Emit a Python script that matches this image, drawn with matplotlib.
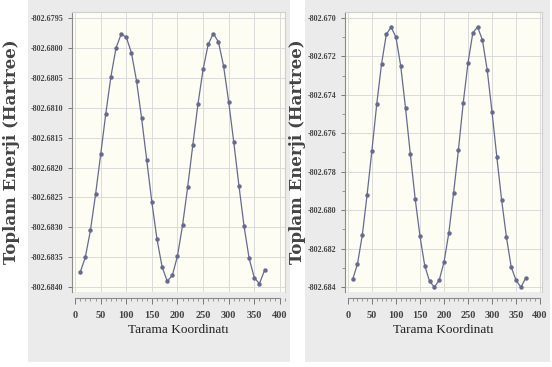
import matplotlib.pyplot as plt
from matplotlib.patches import Rectangle
from matplotlib.ticker import FormatStrFormatter, MultipleLocator

# Tarama koordinati (derece)
scan = [10, 20, 30, 40, 50, 60, 70, 80, 90, 100, 110, 120, 130, 140, 150,
        160, 170, 180, 190, 200, 210, 220, 230, 240, 250, 260, 270, 280,
        290, 300, 310, 320, 330, 340, 350, 360, 370]

# Sol panel toplam enerji (Hartree)
energy_left = [-802.68375, -802.68350, -802.68305, -802.68245, -802.68178,
               -802.68110, -802.68048, -802.68000, -802.67977, -802.67982,
               -802.68008, -802.68055, -802.68118, -802.68188, -802.68258,
               -802.68320, -802.68366, -802.68390, -802.68380, -802.68348,
               -802.68296, -802.68232, -802.68162, -802.68094, -802.68036,
               -802.67994, -802.67976, -802.67990, -802.68030, -802.68090,
               -802.68158, -802.68230, -802.68298, -802.68352, -802.68384,
               -802.68394, -802.68372]

# Sag panel toplam enerji (Hartree)
energy_right = [-802.68360, -802.68280, -802.68130, -802.67920, -802.67690,
                -802.67450, -802.67240, -802.67085, -802.67048, -802.67100,
                -802.67250, -802.67470, -802.67710, -802.67940, -802.68135,
                -802.68290, -802.68370, -802.68400, -802.68365, -802.68271,
                -802.68120, -802.67911, -802.67688, -802.67443, -802.67234,
                -802.67078, -802.67047, -802.67115, -802.67271, -802.67490,
                -802.67724, -802.67948, -802.68141, -802.68297, -802.68365,
                -802.68401, -802.68354]

yticks_left = [-802.6795, -802.6800, -802.6805, -802.6810, -802.6815,
               -802.6820, -802.6825, -802.6830, -802.6835, -802.6840]
yticks_right = [-802.670, -802.672, -802.674, -802.676, -802.678,
                -802.680, -802.682, -802.684]
xticks = [0, 50, 100, 150, 200, 250, 300, 350, 400]

W, H = 552, 367
LINE = '#666a90'
SERIF = 'Liberation Serif'

fig = plt.figure(figsize=(5.52, 3.67), dpi=100)
fig.patch.set_facecolor('white')


def fx(px):
    return px / W


def fy(py):
    return 1 - py / H


# gray panel backgrounds
for x0, x1 in [(28, 290), (305, 550)]:
    fig.patches.append(Rectangle((fx(x0), fy(362)), fx(x1 - x0), 362 / H,
                                 transform=fig.transFigure,
                                 facecolor='#ebebeb', edgecolor='none',
                                 zorder=-10))


def style_axes(ax, energies, yticks, fmt, xlim, ylim, minor_y=None):
    ax.set_facecolor('#fdfdf3')
    ax.plot(scan, energies, color=LINE, lw=0.9,
            marker='o', ms=2.2, mfc=LINE, mec=LINE, zorder=3)
    ax.set_xlim(*xlim)
    ax.set_ylim(*ylim)
    ax.set_xticks(xticks)
    ax.xaxis.set_minor_locator(MultipleLocator(10))
    ax.set_yticks(yticks)
    if minor_y:
        ax.yaxis.set_minor_locator(MultipleLocator(minor_y))
    ax.yaxis.set_major_formatter(FormatStrFormatter(fmt))
    ax.grid(True, which='major', color='#dadada', lw=0.7, zorder=0)

    ax.spines['bottom'].set_position(('outward', 4.5))
    ax.spines['bottom'].set_bounds(0, 400)
    ax.spines['bottom'].set_color('#8a8a8a')
    ax.spines['left'].set_color('#8a8a8a')
    ax.spines['top'].set_color('#cfcfcf')
    ax.spines['right'].set_color('#cfcfcf')

    ax.tick_params(axis='x', which='major', length=4, width=0.7,
                   color='#777777', labelsize=7.5, pad=5)
    ax.tick_params(axis='x', which='minor', length=2.5, width=0.6,
                   color='#888888')
    ax.tick_params(axis='y', which='major', length=3, width=0.7,
                   color='#777777', labelsize=5.8, pad=3)
    ax.tick_params(axis='y', which='minor', length=2, width=0.6,
                   color='#888888')
    for lab in ax.get_xticklabels() + ax.get_yticklabels():
        lab.set_fontfamily(SERIF)
        lab.set_color('#444444')
        lab.set_fontweight('bold')
    ax.set_xlabel('Tarama Koordinatı', fontfamily=SERIF, fontsize=9.5,
                  color='#222222', labelpad=3)


ax1 = fig.add_axes([fx(72), fy(292), fx(213), 280 / H])
ax2 = fig.add_axes([fx(345), fy(292), fx(197), 280 / H])

style_axes(ax1, energy_left, yticks_left, '%.4f', (-6, 410),
           (-802.68408, -802.67940))
style_axes(ax2, energy_right, yticks_right, '%.3f', (-6, 404),
           (-802.68426, -802.66969), minor_y=0.001)

for xc in (12, 298):
    fig.text(fx(xc), fy(152), 'Toplam Enerji (Hartree)', rotation=90,
             ha='center', va='center', fontfamily='DejaVu Serif',
             fontweight='bold', fontsize=12, color='#444444')

fig.savefig('out.png', dpi=100, facecolor='white')
